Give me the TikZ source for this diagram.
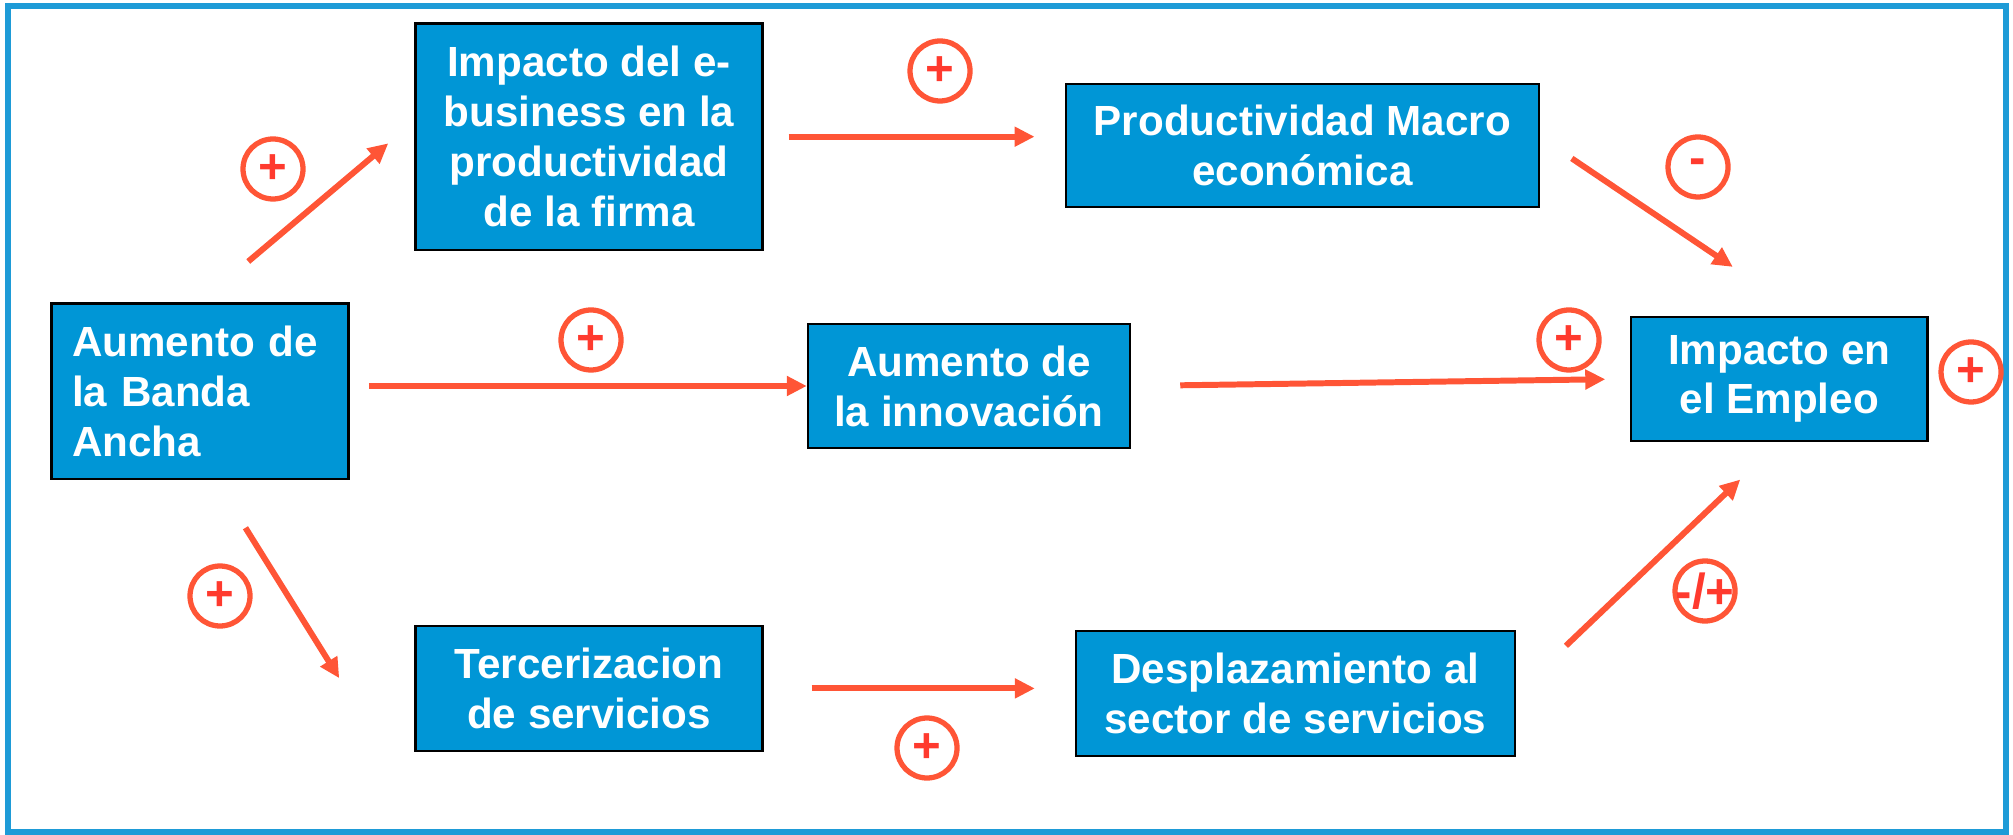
\documentclass[tikz,border=0pt]{standalone}
\usepackage{fontspec}
\setmainfont{Liberation Sans}
\usepackage{tikz}
\usetikzlibrary{arrows.meta}
\definecolor{bb_azul}{HTML}{0096D6}
\definecolor{bb_marco}{HTML}{1E9BD7}
\definecolor{bb_flecha}{HTML}{FF5536}
\definecolor{bb_signo}{HTML}{FF3A2E}

\begin{document}
\begin{tikzpicture}[
        caja/.style={draw=black, line width=0.7pt, fill=bb_azul, text=white, inner sep=0pt, align=center, font=\bfseries\fontsize{12}{14.2}\selectfont},
        flecha/.style={draw=bb_flecha, line width=1.7pt, -{Triangle[length=0.2cm, width=0.19cm]}},
        signo/.style={circle, draw=bb_flecha, line width=1.5pt, minimum size=0.6cm, inner sep=0pt, text=bb_signo, font=\bfseries\fontsize{14}{14}\selectfont}
    ]
            \useasboundingbox (0, 0) rectangle (20.13, -8.35);
            \draw [bb_marco, line width=1.6pt] (0.08, -0.06) rectangle (20.06, -8.32);

            \node[caja, minimum width=2.97cm, minimum height=1.757cm, text width=2.56cm, align=left] (banda) at (2.001, -3.912) {Aumento de\\la Banda\\Ancha};
            \node[caja, minimum width=3.47cm, minimum height=2.267cm] (ebiz) at (5.89, -1.367) {Impacto del e-\\business en la\\productividad\\de la firma};
            \node[caja, minimum width=4.733cm, minimum height=1.23cm] (macro) at (13.024, -1.455) {Productividad Macro\\econ\'omica};
            \node[caja, minimum width=3.22cm, minimum height=1.24cm] (innov) at (9.69, -3.86) {Aumento de\\la innovaci\'on};
            \node[caja, minimum width=2.966cm, minimum height=1.243cm] (empleo) at (17.793, -3.789) {Impacto en\\el Empleo};
            \node[caja, minimum width=3.47cm, minimum height=1.247cm] (terc) at (5.89, -6.884) {Tercerizacion\\de servicios};
            \node[caja, minimum width=4.387cm, minimum height=1.247cm] (despl) at (12.954, -6.934) {Desplazamiento al\\sector de servicios};

            \draw[flecha, shorten <=0.63cm, shorten >=0.34cm] (banda.north) -- (ebiz.175);
            \draw[flecha, shorten <=0.25cm, shorten >=0.3cm] (ebiz.east) -- (ebiz.east -| macro.west);
            \draw[flecha, shorten <=0.19cm] (innov.west -| banda.east) -- (innov.west);
            \draw[flecha, shorten <=0.49cm, shorten >=0.245cm] (innov.east) -- (empleo.west);
            \draw[flecha, shorten <=0.38cm, shorten >=0.87cm] (macro.2) -- (empleo.68);
            \draw[flecha, shorten <=0.56cm, shorten >=0.87cm] (banda.-80) -- ([xshift=-0.29cm]terc.south west);
            \draw[flecha, shorten <=0.48cm, shorten >=0.4cm] (terc.east) -- (terc.east -| despl.west);
            \draw[flecha, shorten <=0.69cm, shorten >=0.54cm] (despl.east) -- (empleo.south);

            % signos de cada efecto
            \node[signo] (s1) at (2.73, -1.69) {+};
            \node[signo] (s2) at (9.40, -0.71) {+};
            \node[signo] (s3) at (5.91, -3.40) {+};
            \node[signo] (s4) at (16.98, -1.67) {-};
            \node[signo] (s5) at (15.69, -3.40) {+};
            \node[signo] (s6) at (19.71, -3.72) {+};
            \node[signo] (s7) at (2.20, -5.96) {+};
            \node[signo] (s8) at (9.27, -7.48) {+};
            \node[signo, inner sep=-3pt] (s9) at (17.05, -5.91) {-/+};

\end{tikzpicture}
\end{document}
